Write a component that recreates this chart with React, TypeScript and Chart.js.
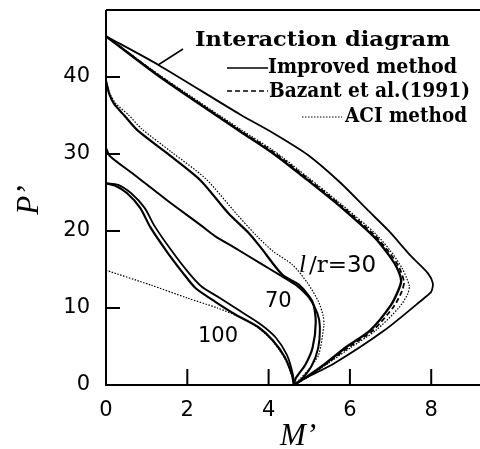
import React, { useEffect, useRef } from "react";
import { Chart, registerables } from "chart.js";

Chart.register(...registerables);

// Axis ticks
const xTicks = [0, 2, 4, 6, 8];
const yTicks = [0, 10, 20, 30, 40];

// Interaction diagram (M', P')
const interM = [0, 1.28, 3.31, 4.12, 4.96, 5.78, 6.44, 6.94, 7.51, 7.92, 8.04, 8.0, 7.83, 6.85, 5.61, 4.79, 4.62];
const interP = [45.3, 41.6, 35.1, 32.7, 29.9, 26.2, 22.7, 20.1, 16.7, 14.5, 13.2, 12.1, 11.3, 7.1, 2.8, 0.6, 0];

// l/r = 30
const imp30M = [0, 1.33, 3.31, 4.13, 4.96, 5.78, 6.6, 6.94, 7.15, 7.26, 7.2, 7.0, 6.5, 5.9, 5.4, 4.95, 4.62];
const imp30P = [45.3, 40.0, 32.9, 30.0, 26.6, 23.1, 19.2, 17.0, 15.3, 13.6, 12.4, 10.3, 7.1, 4.9, 2.8, 1.1, 0];
const baz30M = [0, 1.33, 3.31, 4.13, 4.96, 5.78, 6.62, 6.97, 7.2, 7.33, 7.28, 7.08, 6.57, 5.97, 5.43, 4.97, 4.62];
const baz30P = [45.3, 40.1, 33.0, 30.2, 26.8, 23.3, 19.4, 17.2, 15.4, 13.4, 12.2, 10.2, 7.1, 4.9, 2.8, 1.1, 0];
const aci30M = [0, 1.33, 3.31, 4.13, 4.96, 5.78, 6.64, 7.0, 7.28, 7.46, 7.42, 7.2, 6.64, 6.03, 5.46, 4.98, 4.62];
const aci30P = [45.3, 40.2, 33.2, 30.4, 27.0, 23.5, 19.6, 17.4, 15.2, 12.9, 11.8, 10.0, 7.1, 4.9, 2.8, 1.1, 0];

// l/r = 70
const imp70M = [0, 0.08, 0.2, 0.45, 0.77, 1.5, 2.32, 3.01, 3.5, 3.8, 4.34, 4.75, 5.08, 5.16, 5.08, 4.9, 4.67, 4.62];
const imp70P = [39.5, 37.8, 36.5, 35.0, 33.1, 30.1, 26.6, 22.3, 19.8, 17.9, 14.3, 13.0, 10.8, 8.2, 4.8, 2.6, 0.9, 0];
const baz70M = [0, 0.1, 0.25, 0.55, 0.87, 1.6, 2.45, 3.23, 3.7, 4.1, 4.59, 4.95, 5.23, 5.34, 5.36, 5.23, 4.98, 4.74, 4.62];
const baz70P = [39.5, 37.8, 36.5, 35.1, 33.3, 30.3, 26.8, 22.1, 19.4, 17.4, 15.6, 13.3, 10.8, 9.0, 7.8, 3.9, 2.0, 0.6, 0];
const aci70M = [0, 0.1, 0.67, 1.5, 2.32, 2.69, 3.14, 3.8, 4.3, 4.67, 5.0, 5.2, 5.26, 5.22, 5.05, 4.8, 4.62];
const aci70P = [30.8, 29.7, 27.4, 24.0, 20.8, 19.3, 17.9, 15.8, 14.2, 13.0, 11.3, 9.3, 7.6, 4.8, 2.4, 0.7, 0];

// l/r = 100
const imp100M = [0, 0.22, 0.52, 0.84, 1.09, 1.5, 1.9, 2.2, 2.69, 3.2, 3.75, 4.1, 4.4, 4.58, 4.62];
const imp100P = [26.2, 25.9, 24.9, 23.0, 20.5, 17.3, 14.5, 12.6, 10.8, 9.1, 7.5, 5.8, 3.6, 1.2, 0];
const baz100M = [0, 0.3, 0.62, 0.95, 1.2, 1.62, 2.03, 2.35, 2.8, 3.3, 3.8, 4.17, 4.45, 4.6, 4.62];
const baz100P = [26.2, 26.0, 24.9, 23.0, 20.6, 17.4, 14.6, 12.8, 11.3, 9.6, 7.9, 6.2, 3.9, 1.3, 0];
const aci100M = [0, 1.09, 2.0, 2.74, 3.3, 3.75, 4.1, 4.4, 4.58, 4.62];
const aci100P = [14.9, 13.0, 11.3, 10.0, 8.8, 7.4, 5.7, 3.4, 1.1, 0];

const legendLabels = ["Interaction diagram", "Improved method", "Bazant et al.(1991)", "ACI method"];
const curveLabels = ["30", "70", "100"];

const zip = (m: number[], p: number[]) => m.map((x, i) => ({ x, y: p[i] }));

type Style = "solid" | "dashed" | "dotted";
const mk = (label: string, m: number[], p: number[], style: Style, width: number) => ({
  label,
  data: zip(m, p),
  showLine: true,
  fill: false,
  pointRadius: 0,
  borderColor: "#000",
  borderWidth: width,
  borderDash: style === "dashed" ? [5, 3] : style === "dotted" ? [1.5, 1.5] : [],
  tension: 0.25,
});

const fitText = (ctx: CanvasRenderingContext2D, text: string, x: number, y: number, w: number) => {
  const m = ctx.measureText(text).width;
  ctx.save();
  ctx.translate(x, y);
  ctx.scale(w / m, 1);
  ctx.fillText(text, 0, 0);
  ctx.restore();
};

const decor = {
  id: "decor",
  afterDraw(chart: any) {
    const ctx = chart.ctx as CanvasRenderingContext2D;
    const { left, right, top, bottom } = chart.chartArea;
    const xs = chart.scales.x;
    const ys = chart.scales.y;
    ctx.save();
    ctx.strokeStyle = "#000";
    ctx.fillStyle = "#000";
    ctx.lineWidth = 2;
    ctx.setLineDash([]);
    ctx.beginPath();
    ctx.moveTo(left, top);
    ctx.lineTo(right, top);
    ctx.moveTo(left, top);
    ctx.lineTo(left, bottom);
    ctx.lineTo(right, bottom);
    ctx.stroke();
    ctx.lineWidth = 2;
    ctx.beginPath();
    yTicks.forEach((v) => {
      if (v === 0) return;
      const y = ys.getPixelForValue(v);
      ctx.moveTo(left, y);
      ctx.lineTo(left + 14, y);
    });
    xTicks.forEach((v) => {
      if (v === 0) return;
      const x = xs.getPixelForValue(v);
      ctx.moveTo(x, bottom);
      ctx.lineTo(x, bottom - 16);
    });
    ctx.stroke();

    // axis titles
    ctx.font = "italic 31px 'Liberation Serif'";
    ctx.textAlign = "center";
    ctx.textBaseline = "alphabetic";
    ctx.fillText("M\u2019", 298, 445);
    ctx.save();
    ctx.translate(38, 200);
    ctx.rotate(-Math.PI / 2);
    ctx.fillText("P\u2019", 0, 0);
    ctx.restore();

    // legend
    ctx.textAlign = "left";
    ctx.font = "bold 21px 'DejaVu Serif'";
    fitText(ctx, legendLabels[0], 195, 46, 255);
    ctx.lineWidth = 1.5;
    ctx.beginPath();
    ctx.moveTo(183, 49);
    ctx.lineTo(158, 65);
    ctx.stroke();

    ctx.font = "bold 20px 'DejaVu Serif'";
    ctx.lineWidth = 1.5;
    ctx.beginPath();
    ctx.moveTo(227, 68);
    ctx.lineTo(268, 68);
    ctx.stroke();
    fitText(ctx, legendLabels[1], 268, 73, 189);

    ctx.setLineDash([5, 3]);
    ctx.beginPath();
    ctx.moveTo(227, 91);
    ctx.lineTo(268, 91);
    ctx.stroke();
    ctx.setLineDash([]);
    fitText(ctx, legendLabels[2], 269, 97, 201);

    ctx.lineWidth = 1;
    ctx.setLineDash([1.5, 1.5]);
    ctx.beginPath();
    ctx.moveTo(302, 117);
    ctx.lineTo(342, 117);
    ctx.stroke();
    ctx.setLineDash([]);
    fitText(ctx, legendLabels[3], 345, 122, 122);

    // curve labels
    ctx.font = "italic 25px 'Liberation Serif'";
    ctx.fillText("l", 299, 272);
    let x = 299 + ctx.measureText("l").width + 3;
    ctx.font = "23px 'DejaVu Serif'";
    ctx.fillText("/r=", x, 272);
    x += ctx.measureText("/r=").width;
    ctx.font = "23px 'DejaVu Sans'";
    ctx.fillText(curveLabels[0], x, 272);
    ctx.font = "21px 'DejaVu Sans'";
    ctx.fillText(curveLabels[1], 265, 307);
    ctx.fillText(curveLabels[2], 198, 342);
    ctx.restore();
  },
};

export default function App() {
  const ref = useRef<HTMLCanvasElement>(null);
  useEffect(() => {
    document.body.style.margin = "0";
    const canvas = ref.current!;
    const chart = new Chart(canvas, {
      type: "scatter",
      data: {
        datasets: [
          mk("Interaction diagram", interM, interP, "solid", 1.8),
          mk("Improved l/r=30", imp30M, imp30P, "solid", 2.4),
          mk("Bazant l/r=30", baz30M, baz30P, "dashed", 1.8),
          mk("ACI l/r=30", aci30M, aci30P, "dotted", 1.2),
          mk("Improved l/r=70", imp70M, imp70P, "solid", 2.2),
          mk("Bazant l/r=70", baz70M, baz70P, "dotted", 1.2),
          mk("ACI l/r=70", aci70M, aci70P, "solid", 2),
          mk("Improved l/r=100", imp100M, imp100P, "solid", 2.2),
          mk("Bazant l/r=100", baz100M, baz100P, "solid", 1.8),
          mk("ACI l/r=100", aci100M, aci100P, "dotted", 1.2),
        ] as any,
      },
      options: {
        animation: false,
        responsive: false,
        events: [],
        layout: { padding: { top: 10, right: 0, left: 0, bottom: 0 } },
        plugins: { legend: { display: false }, tooltip: { enabled: false } },
        scales: {
          x: {
            type: "linear",
            min: 0,
            max: 9.2,
            afterBuildTicks: (s: any) => {
              s.ticks = xTicks.map((v) => ({ value: v }));
            },
            afterFit: (s: any) => {
              s.height = 64;
              s.paddingLeft = 0;
              s.paddingRight = 0;
            },
            grid: { display: false, drawTicks: false },
            border: { display: false },
            ticks: { color: "#000", font: { family: "DejaVu Sans", size: 21 }, padding: 13, maxRotation: 0 },
          },
          y: {
            type: "linear",
            min: 0,
            max: 48.7,
            afterBuildTicks: (s: any) => {
              s.ticks = yTicks.map((v) => ({ value: v }));
            },
            afterFit: (s: any) => {
              s.width = 106;
              s.paddingTop = 0;
              s.paddingBottom = 0;
            },
            grid: { display: false, drawTicks: false },
            border: { display: false },
            ticks: { color: "#000", font: { family: "DejaVu Sans", size: 21 }, padding: 16 },
          },
        },
      },
      plugins: [decor],
    });
    return () => chart.destroy();
  }, []);
  return (
    <div style={{ width: 480, height: 449 }}>
      <canvas ref={ref} width={480} height={449} />
    </div>
  );
}
